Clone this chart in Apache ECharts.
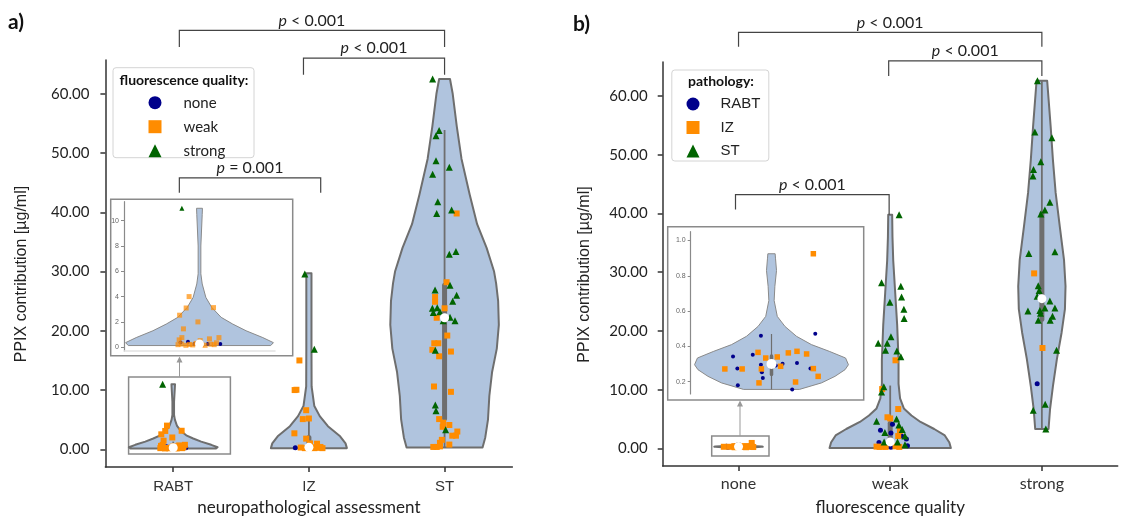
<!DOCTYPE html>
<html>
<head>
<meta charset="utf-8">
<script src="https://cdn.jsdelivr.net/npm/echarts@6/dist/echarts.min.js"></script>
<style>
  html, body { margin: 0; background: #fff; }
  #chart { width: 1125px; height: 521px; }
</style>
</head>
<body>
<div id="chart"></div>
<script>
// ---- categories and ticks ----
const assessCats = ['RABT', 'IZ', 'ST'];
const qualityCats = ['none', 'weak', 'strong'];
const yTicks = [0, 10, 20, 30, 40, 50, 60];
const insetTicksA = [0, 2, 4, 6, 8, 10];
const insetTicksB = [0.2, 0.4, 0.6, 0.8, 1.0];

// ---- violin outlines: [value, half width in category units] ----
const violinRABT = [[0.13, 0.315], [0.36, 0.327], [0.76, 0.28], [1.3, 0.206], [1.83, 0.147], [2.36, 0.096], [3.15, 0.054], [3.94, 0.028], [5.0, 0.012], [5.8, 0.006], [8, 0.006], [10.5, 0.012], [10.98, 0.013]];
const violinIZ = [[0.2, 0.28], [1, 0.27], [2.2, 0.23], [3.9, 0.14], [5.6, 0.08], [7.3, 0.04], [10.6, 0.02], [17, 0.019], [29.7, 0.019]];
const violinST = [[0.3, 0.28], [2, 0.30], [5, 0.32], [9, 0.33], [13, 0.35], [17, 0.385], [21, 0.40], [25, 0.395], [28, 0.38], [30, 0.365], [34, 0.31], [38, 0.24], [43, 0.185], [49, 0.125], [54.5, 0.09], [60, 0.06], [62.5, 0.04]];
const violinNone = [[0.156, 0.058], [0.193, 0.104], [0.23, 0.132], [0.268, 0.153], [0.296, 0.16], [0.334, 0.154], [0.372, 0.12], [0.41, 0.083], [0.457, 0.052], [0.513, 0.028], [0.57, 0.012], [0.66, 0.0055], [0.74, 0.007], [0.83, 0.0104], [0.9, 0.0083], [0.925, 0.0076]];
const violinWeak = [[0.05, 0.40], [1, 0.39], [2.2, 0.36], [3.3, 0.29], [4.5, 0.20], [5.6, 0.14], [6.8, 0.09], [8.5, 0.065], [11, 0.055], [15, 0.055], [21, 0.046], [26.5, 0.033], [32, 0.02], [36, 0.015], [39.8, 0.013]];
const violinStrong = [[3.3, 0.044], [6.7, 0.054], [10.6, 0.073], [15.2, 0.099], [19.7, 0.13], [23.7, 0.152], [27.6, 0.156], [32.1, 0.146], [37.8, 0.118], [43.5, 0.091], [49.1, 0.073], [54.8, 0.058], [62.6, 0.035]];

// ---- inner boxes: [low whisker, q1, median, q3, high whisker] ----
const boxRABT = [0.13, 0.2, 0.26, 0.55, 1.3];
const boxIZ = [0.15, 0.25, 0.35, 2.0, 5.0];
const boxST = [0.3, 5.2, 22.2, 27.7, 53.9];
const boxNone = [0.156, 0.24, 0.3, 0.345, 0.47];
const boxWeak = [0.05, 0.4, 1.1, 4.3, 10.7];
const boxStrong = [3.3, 22.0, 25.5, 40.0, 62.6];

// ---- points [jitter, value], panel a (by fluorescence quality) ----
const rabtNone = [[-0.051, 0.44], [-0.022, 0.26], [0.037, 0.26], [0.092, 0.26], [-0.084, 0.37]];
const rabtWeak = [[-0.046, 4.0], [-0.059, 3.1], [0.062, 3.13], [-0.088, 2.53], [-0.007, 2.0], [-0.071, 1.45], [-0.078, 0.76], [0.086, 0.76], [0.044, 0.66], [-0.09, 0.58], [0.003, 0.52],
  [-0.095, 0.2], [-0.08, 0.25], [-0.06, 0.15], [-0.045, 0.22], [-0.03, 0.18], [-0.015, 0.3], [0.01, 0.2], [0.025, 0.15], [0.05, 0.24], [0.065, 0.2], [0.075, 0.35]];
const rabtStrong = [[-0.078, 10.98]];
const izNone = [[-0.10, 0.25]];
const izWeak = [[-0.07, 15.0], [-0.105, 10.0], [-0.092, 10.05], [-0.02, 6.6], [-0.045, 5.1], [0.0, 5.2], [-0.107, 2.7], [-0.02, 1.8], [0.008, 1.0], [0.06, 0.95],
  [-0.06, 0.3], [-0.03, 0.2], [0.02, 0.35], [0.04, 0.2], [0.07, 0.25], [0.085, 0.4], [0.1, 0.2]];
const izStrong = [[-0.03, 29.6], [0.04, 16.9]];
const stWeak = [[0.089, 39.8], [0.015, 28.2], [-0.07, 25.7], [-0.07, 24.9], [0, 23.8], [-0.058, 22.2], [0.02, 19.2], [-0.076, 17.9], [-0.046, 17.9], [-0.09, 16.8], [0.047, 16.5], [-0.04, 15.7],
  [-0.078, 10.6], [0.047, 9.7], [-0.04, 5.1], [-0.01, 4.5], [0.035, 4.1], [-0.014, 3.8], [0.094, 3.0], [0.057, 2.3], [0.084, 2.3], [-0.02, 1.6], [-0.034, 1.1], [0.035, 0.8], [-0.083, 0.4], [-0.058, 0.4], [-0.034, 0.5]];
const stStrong = [[-0.088, 62.5], [-0.04, 53.8], [-0.063, 52.9], [-0.063, 48.7], [0.035, 47.6], [-0.088, 46.4], [-0.05, 41.8], [0.052, 40.4], [-0.058, 39.8], [0.035, 32.9], [0.084, 33.4],
  [0.04, 27.7], [-0.07, 26.9], [0.089, 26.0], [-0.09, 23.8], [-0.054, 23.9], [0.06, 25.0], [-0.083, 23.1], [-0.034, 23.2], [0.04, 22.3], [-0.01, 21.7], [0.077, 21.7], [-0.068, 16.7], [-0.068, 7.5], [-0.063, 6.5], [0.008, 3.3]];

// ---- points [jitter, value], panel b (by pathology) ----
const noneRabt = [[-0.08, 0.343], [-0.071, 0.274], [-0.07, 0.18], [-0.039, 0.353], [-0.022, 0.46], [-0.022, 0.296], [-0.02, 0.253], [-0.018, 0.221], [0.009, 0.292], [0.023, 0.302], [0.043, 0.155], [0.053, 0.306], [0.081, 0.274], [0.091, 0.472]];
const noneIz = [[0.087, 0.925], [-0.097, 0.272], [-0.061, 0.272], [-0.028, 0.366], [-0.012, 0.334], [-0.021, 0.272], [-0.026, 0.193], [0.012, 0.34], [0.019, 0.287], [0.035, 0.363], [0.053, 0.372], [0.073, 0.357], [0.05, 0.198], [0.087, 0.274], [0.097, 0.23]];
const weakRabt = [[-0.064, 3.1], [0.015, 4.1], [0.005, 2.6], [0.075, 2.1], [0.107, 1.6], [-0.074, 1.0], [0.005, 0.2], [0.114, 0.45]];
const weakIz = [[0.035, 15.0], [-0.053, 10.1], [0.053, 6.7], [-0.018, 5.3], [0, 5.1], [0.064, 3.0], [0.053, 2.1], [-0.09, 0.3], [-0.07, 0.25], [-0.05, 0.3], [-0.03, 0.25], [0.035, 0.35], [0.06, 0.25]];
const weakSt = [[0.059, 39.8], [-0.057, 28.2], [0.07, 27.6], [0.075, 25.8], [-0.002, 24.9], [0.09, 23.7], [0.092, 22.1], [0.005, 19.0], [-0.079, 17.9], [-0.02, 17.9], [-0.031, 16.7], [0.044, 16.6], [0.07, 15.6],
  [-0.042, 10.5], [-0.057, 9.6], [0.042, 5.0], [-0.09, 4.6], [0.057, 4.0], [-0.035, 2.7], [0.079, 3.2], [0.097, 2.1], [0.048, 1.1], [0.097, 0.6], [-0.04, 1.1]];
const strongRabt = [[-0.031, 11.0]];
const strongIz = [[-0.051, 29.8], [0.004, 17.1]];
const strongSt = [[-0.029, 62.6], [-0.046, 53.9], [0.066, 52.9], [-0.007, 48.8], [-0.055, 47.5], [-0.059, 46.4], [0.053, 41.9], [0.02, 40.6], [-0.007, 39.9], [-0.086, 33.2], [0.086, 33.5],
  [-0.024, 27.7], [-0.018, 26.9], [-0.031, 25.9], [0.053, 25.1], [-0.092, 23.4], [0.02, 23.9], [0.086, 23.9], [-0.013, 23.5], [-0.009, 23.0], [-0.024, 21.8], [0.055, 21.8], [0.07, 22.5], [0.097, 16.7], [0.022, 7.5], [-0.057, 6.5], [0.026, 3.3]];

// ---- significance brackets: [from, to, p text] ----
const bracketsA = [[0.045, 2, '< 0.001'], [0.96, 2, '< 0.001'], [0.045, 1.087, '= 0.001']];
const bracketsB = [[0, 2, '< 0.001'], [0.99, 2, '< 0.001'], [-0.02, 0.993, '< 0.001']];

const NAVY = '#00008b', ORANGE = '#ff8c00', GREEN = '#006400';
const VIOLIN_FILL = '#b0c4de', EDGE = '#6e6e6e';

const chart = echarts.init(document.getElementById('chart'));
const pts = (c, arr) => arr.map(([o, v]) => [c + o, v]);

function violinSeries(axis, profiles, lw, stroke) {
  return {
    type: 'custom', xAxisIndex: axis, yAxisIndex: axis, silent: true, z: 1,
    data: profiles.map((p, i) => [i, p[0][0]]),
    renderItem: function (params, api) {
      const prof = profiles[params.dataIndex];
      const c = params.dataIndex;
      const left = prof.map(([v, w]) => api.coord([c - w, v]));
      const right = prof.slice().reverse().map(([v, w]) => api.coord([c + w, v]));
      return {
        type: 'polygon',
        shape: { points: left.concat(right) },
        style: { fill: VIOLIN_FILL, stroke: stroke, lineWidth: lw, lineJoin: 'round' }
      };
    }
  };
}

function boxSeries(axis, boxes, thick, thin) {
  return {
    type: 'custom', xAxisIndex: axis, yAxisIndex: axis, silent: true, z: 2,
    data: boxes.map((b, i) => [i, b[2]]),
    renderItem: function (params, api) {
      const b = boxes[params.dataIndex], c = params.dataIndex;
      const lo = api.coord([c, b[0]]), hi = api.coord([c, b[4]]);
      const q1 = api.coord([c, b[1]]), q3 = api.coord([c, b[3]]);
      return {
        type: 'group', children: [
          { type: 'line', shape: { x1: lo[0], y1: lo[1], x2: hi[0], y2: hi[1] }, style: { stroke: EDGE, lineWidth: thin } },
          { type: 'line', shape: { x1: q1[0], y1: q1[1], x2: q3[0], y2: q3[1] }, style: { stroke: EDGE, lineWidth: thick, lineCap: 'round' } }
        ]
      };
    }
  };
}

function medianSeries(axis, boxes, r) {
  return {
    type: 'custom', xAxisIndex: axis, yAxisIndex: axis, silent: true, z: 5,
    data: boxes.map((b, i) => [i, b[2]]),
    renderItem: function (params, api) {
      const p = api.coord([params.dataIndex, boxes[params.dataIndex][2]]);
      return { type: 'circle', shape: { cx: p[0], cy: p[1], r: r }, style: { fill: '#fff' } };
    }
  };
}

function bracketSeries(axis, list, levels) {
  return {
    type: 'custom', xAxisIndex: axis, yAxisIndex: axis, silent: true, z: 6,
    data: list.map((b, i) => [b[0], levels[i][0]]),
    renderItem: function (params, api) {
      const b = list[params.dataIndex], lv = levels[params.dataIndex];
      const a1 = api.coord([b[0], lv[1]]), a2 = api.coord([b[0], lv[0]]);
      const b2 = api.coord([b[1], lv[0]]), b1 = api.coord([b[1], lv[2]]);
      return {
        type: 'group', children: [
          { type: 'polyline', shape: { points: [a1, a2, b2, b1] }, style: { stroke: '#444', lineWidth: 1.2, fill: null } },
          { type: 'text', x: (a2[0] + b2[0]) / 2, y: a2[1] - 2,
            style: { text: '{i|p} ' + b[2], align: 'center', verticalAlign: 'bottom',
              fontFamily: 'Lato', fontSize: 16, fill: '#222',
              rich: { i: { fontStyle: 'italic', fontFamily: 'Lato', fontSize: 16, fill: '#222' } } } }
        ]
      };
    }
  };
}

function scatter(name, axis, data, symbol, size, color, opacity) {
  return {
    name: name, type: 'scatter', xAxisIndex: axis, yAxisIndex: axis, z: 4,
    symbol: symbol, symbolSize: size, data: data,
    itemStyle: { color: color, opacity: opacity || 1 },
    emphasis: { disabled: true }
  };
}

function mainX(gi, cats, title, margin, gap, labelFont, labelSize) {
  return {
    gridIndex: gi, type: 'value', min: -0.5, max: 2.5,
    axisLine: { onZero: false, lineStyle: { color: '#333', width: 1.5 } },
    axisTick: { customValues: [0, 1, 2], length: 5, lineStyle: { color: '#333', width: 1.5 } },
    axisLabel: { customValues: [0, 1, 2], formatter: v => cats[Math.round(v)], margin: margin,
      fontFamily: labelFont, fontSize: labelSize, color: '#333' },
    splitLine: { show: false },
    name: title, nameLocation: 'middle', nameGap: gap,
    nameTextStyle: { fontFamily: 'Lato', fontSize: 17, color: '#222' }
  };
}

function mainY(gi, max, margin, gap) {
  return {
    gridIndex: gi, type: 'value', min: -3, max: max,
    axisLine: { show: true, onZero: false, lineStyle: { color: '#333', width: 1.5 } },
    axisTick: { show: true, customValues: yTicks, length: 5, lineStyle: { color: '#333', width: 1.5 } },
    axisLabel: { customValues: yTicks, formatter: v => v.toFixed(2), margin: margin,
      fontFamily: 'Lato', fontSize: 15, color: '#222' },
    splitLine: { show: false },
    name: 'PPIX contribution [µg/ml]', nameLocation: 'middle', nameRotate: 90, nameGap: gap,
    nameTextStyle: { fontFamily: 'Liberation Sans', fontSize: 16, color: '#222', padding: [0, 21, 0, 0] }
  };
}

function insetY(gi, min, max, ticks, digits) {
  return {
    gridIndex: gi, type: 'value', min: min, max: max,
    axisLine: { show: true, onZero: false, lineStyle: { color: '#8a8a8a', width: 1.2 } },
    axisTick: { show: true, customValues: ticks, length: 3, lineStyle: { color: '#8a8a8a' } },
    axisLabel: { customValues: ticks, formatter: v => v.toFixed(digits), margin: 5,
      fontFamily: 'Liberation Sans', fontSize: 7, color: '#666' },
    splitLine: { show: false }
  };
}

const option = {
  backgroundColor: '#fff',
  animation: false,
  grid: [
    { left: 105.4, top: 60, width: 407, height: 411 },
    { left: 662.7, top: 62, width: 455, height: 405 },
    { left: 124, top: 201.7, width: 151, height: 149.3 },
    { left: 690.7, top: 231.7, width: 161.6, height: 162.3 }
  ],
  xAxis: [
    mainX(0, assessCats, 'neuropathological assessment', 12, 31, 'Liberation Sans', 15),
    mainX(1, qualityCats, 'fluorescence quality', 10, 33, 'Lato', 16),
    { gridIndex: 2, type: 'value', min: -0.334, max: 0.334, axisLine: { onZero: false, lineStyle: { color: '#e2e2e2', width: 1.5 } },
      axisTick: { show: false }, axisLabel: { show: false }, splitLine: { show: false } },
    { gridIndex: 3, type: 'value', min: -0.168, max: 0.168, axisLine: { show: false, onZero: false },
      axisTick: { show: false }, axisLabel: { show: false }, splitLine: { show: false } }
  ],
  yAxis: [
    mainY(0, 65.7, 16, 76),
    mainY(1, 65.8, 15, 70),
    insetY(2, -0.3, 11.5, insetTicksA, 0),
    insetY(3, 0.13, 1.05, insetTicksB, 1)
  ],
  legend: [
    { data: [{ name: 'none', icon: 'circle' }, { name: 'weak', icon: 'rect' }, { name: 'strong', icon: 'triangle' }],
      orient: 'vertical', left: 148.5, top: 95.2, padding: 0, itemWidth: 13, itemHeight: 13, itemGap: 9, selectedMode: false,
      textStyle: { fontFamily: 'Lato', fontSize: 15, color: '#222', padding: [0, 0, 0, 17] } },
    { data: [{ name: 'RABT', icon: 'circle' }, { name: 'IZ', icon: 'rect' }, { name: 'ST', icon: 'triangle' }],
      orient: 'vertical', left: 686.5, top: 96.5, padding: 0, itemWidth: 13, itemHeight: 13, itemGap: 8.5, selectedMode: false,
      textStyle: { fontFamily: 'Liberation Sans', fontSize: 15, color: '#222', padding: [0, 0, 0, 16] } }
  ],
  graphic: [
    { type: 'text', left: 8, top: 12, style: { text: 'a)', fontFamily: 'Lato', fontWeight: 'bold', fontSize: 21, fill: '#111' } },
    { type: 'text', left: 573, top: 14, style: { text: 'b)', fontFamily: 'Lato', fontWeight: 'bold', fontSize: 21, fill: '#111' } },
    { type: 'rect', shape: { x: 113, y: 67.7, width: 141, height: 90, r: 3 }, style: { fill: '#fff', stroke: '#d4d4d4', lineWidth: 1 }, z: -1 },
    { type: 'text', x: 184, y: 80.7, style: { text: 'fluorescence quality:', fontFamily: 'Lato', fontWeight: 'bold', fontSize: 14, fill: '#111', align: 'center', verticalAlign: 'middle' } },
    { type: 'rect', shape: { x: 671.8, y: 70, width: 97, height: 91, r: 3 }, style: { fill: '#fff', stroke: '#d4d4d4', lineWidth: 1 }, z: -1 },
    { type: 'text', x: 721, y: 81.7, style: { text: 'pathology:', fontFamily: 'Lato', fontWeight: 'bold', fontSize: 14, fill: '#111', align: 'center', verticalAlign: 'middle' } },
    // inset frames, zoom frames and arrows
    { type: 'rect', shape: { x: 110.7, y: 199.3, width: 182, height: 156.4 }, style: { fill: 'none', stroke: '#8a8a8a', lineWidth: 1.5 } },
    { type: 'rect', shape: { x: 667.7, y: 226.7, width: 196, height: 173.3 }, style: { fill: 'none', stroke: '#8a8a8a', lineWidth: 1.5 } },
    { type: 'rect', shape: { x: 128.6, y: 377, width: 101.8, height: 77 }, style: { fill: 'none', stroke: '#8a8a8a', lineWidth: 1.5 } },
    { type: 'rect', shape: { x: 711.7, y: 436, width: 57.3, height: 20 }, style: { fill: 'none', stroke: '#8a8a8a', lineWidth: 1.5 } },
    { type: 'line', shape: { x1: 179.5, y1: 377, x2: 179.5, y2: 361 }, style: { stroke: '#999', lineWidth: 1 } },
    { type: 'polygon', shape: { points: [[179.5, 356.5], [176.5, 362.5], [182.5, 362.5]] }, style: { fill: '#999' } },
    { type: 'line', shape: { x1: 740, y1: 436, x2: 740, y2: 405 }, style: { stroke: '#999', lineWidth: 1 } },
    { type: 'polygon', shape: { points: [[740, 400.5], [737, 406.5], [743, 406.5]] }, style: { fill: '#999' } }
  ],
  series: [
    // panel a, main
    violinSeries(0, [violinRABT, violinIZ, violinST], 2, EDGE),
    boxSeries(0, [boxRABT, boxIZ, boxST], 5, 1.8),
    scatter('none', 0, pts(0, rabtNone).concat(pts(1, izNone)), 'circle', 5, NAVY),
    scatter('weak', 0, pts(0, rabtWeak).concat(pts(1, izWeak), pts(2, stWeak)), 'rect', 6, ORANGE),
    scatter('strong', 0, pts(0, rabtStrong).concat(pts(1, izStrong), pts(2, stStrong)), 'triangle', 7, GREEN),
    medianSeries(0, [boxRABT, boxIZ, boxST], 4.5),
    bracketSeries(0, bracketsA, [[70.7, 67.9, 67.9], [66.0, 63.2, 63.2], [45.8, 43.3, 43.3]]),
    // panel a, inset (RABT enlarged)
    violinSeries(2, [violinRABT], 1, '#8a8a8a'),
    scatter('none', 2, pts(0, rabtNone), 'circle', 4, NAVY),
    scatter('weak', 2, pts(0, rabtWeak), 'rect', 5, ORANGE, 0.7),
    scatter('strong', 2, pts(0, rabtStrong), 'triangle', 5, GREEN),
    medianSeries(2, [boxRABT], 4.5),
    // panel b, main
    violinSeries(1, [violinNone, violinWeak, violinStrong], 2, EDGE),
    boxSeries(1, [boxNone, boxWeak, boxStrong], 5, 1.8),
    scatter('RABT', 1, pts(0, noneRabt).concat(pts(1, weakRabt), pts(2, strongRabt)), 'circle', 5, NAVY),
    scatter('IZ', 1, pts(0, noneIz).concat(pts(1, weakIz), pts(2, strongIz)), 'rect', 6, ORANGE),
    scatter('ST', 1, pts(1, weakSt).concat(pts(2, strongSt)), 'triangle', 7, GREEN),
    medianSeries(1, [boxNone, boxWeak, boxStrong], 4.5),
    bracketSeries(1, bracketsB, [[70.85, 68.4, 68.4], [66.0, 63.4, 63.4], [43.2, 40.7, 39.8]]),
    // panel b, inset (none enlarged)
    violinSeries(3, [violinNone], 1, '#8a8a8a'),
    boxSeries(3, [boxNone], 3.5, 1.2),
    scatter('RABT', 3, pts(0, noneRabt), 'circle', 4, NAVY),
    scatter('IZ', 3, pts(0, noneIz), 'rect', 5.5, ORANGE),
    medianSeries(3, [boxNone], 5)
  ]
};

chart.setOption(option);
</script>
</body>
</html>
